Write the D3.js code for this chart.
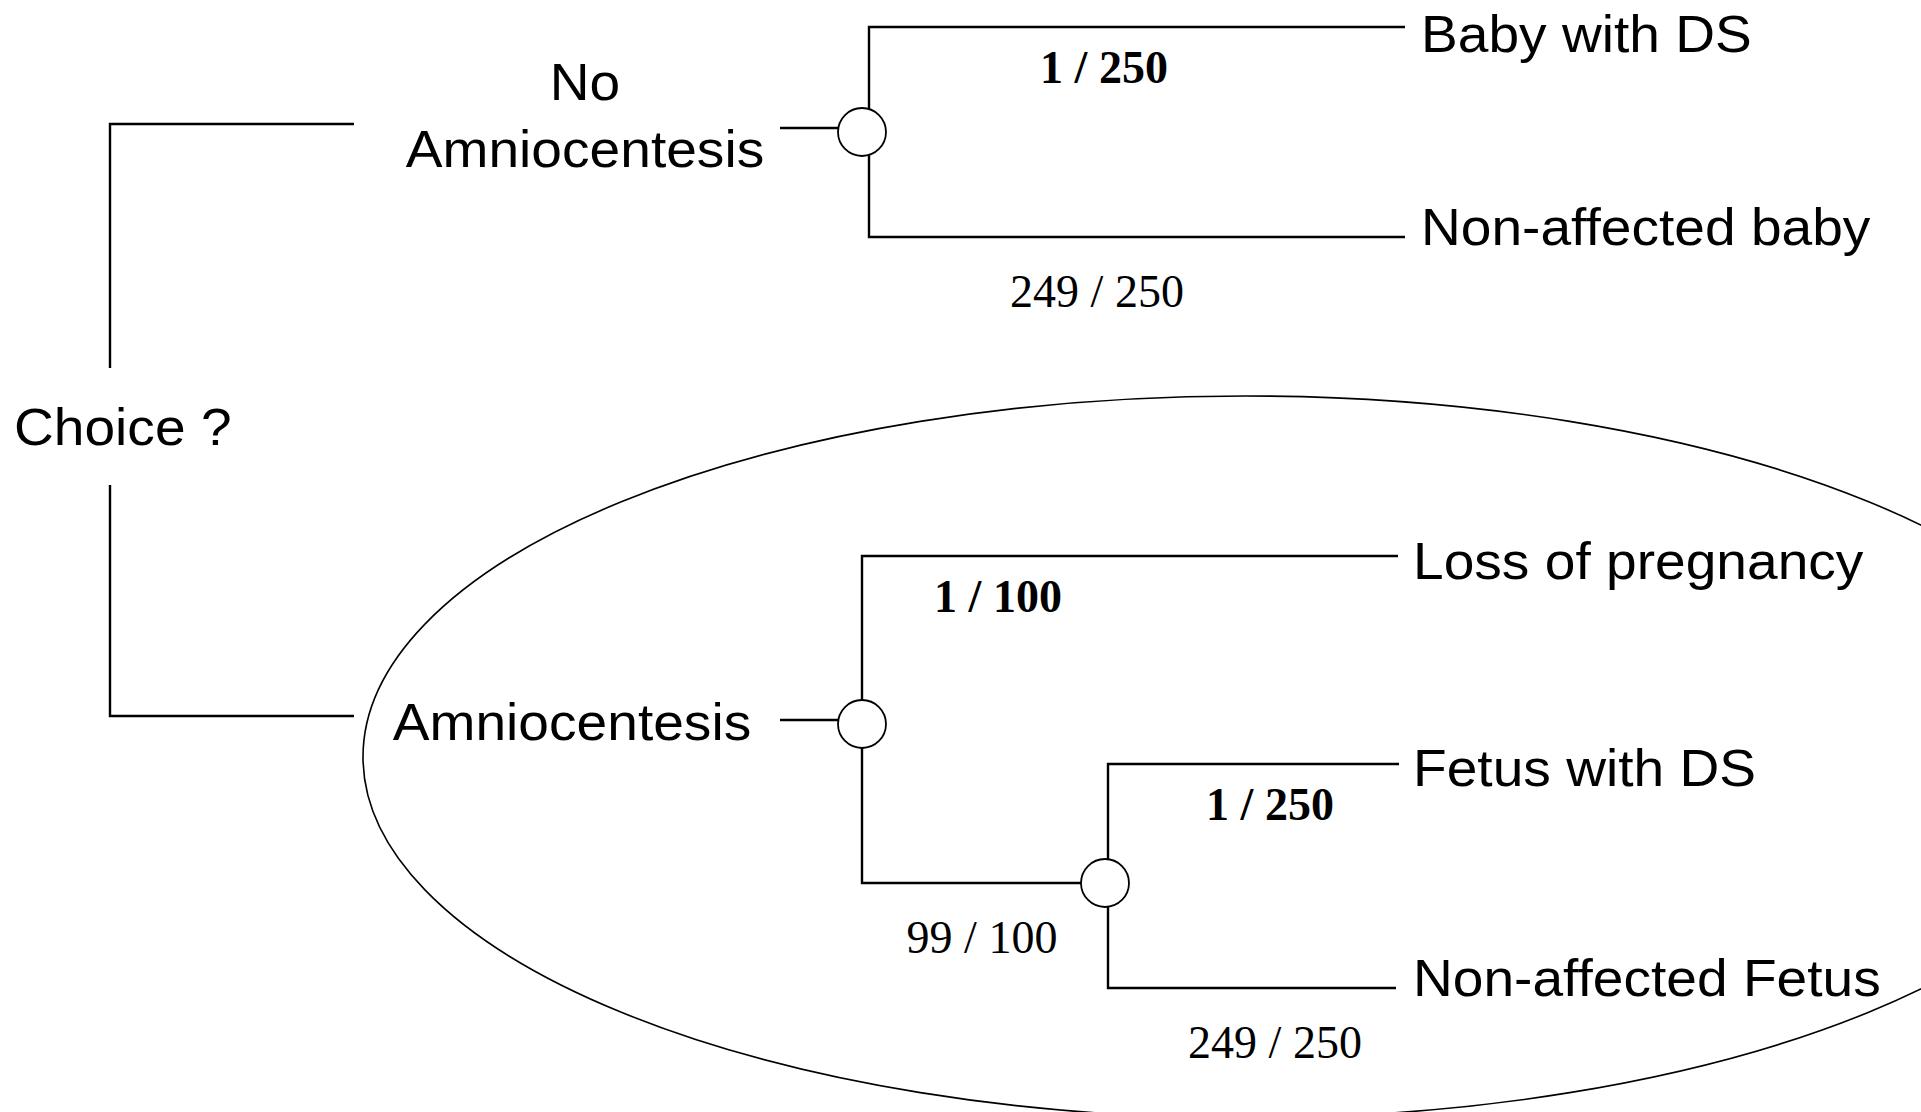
<!DOCTYPE html>
<html>
<head>
<meta charset="utf-8">
<title>Amniocentesis decision tree</title>
<script src="https://d3js.org/d3.v7.min.js"></script>
<style>
	html, body { margin: 0; padding: 0; background: #fff; }
	svg { display: block; }
	.sans { font-family: 'Liberation Sans', Arial, sans-serif; font-size: 52px; fill: #000; }
	.serif { font-family: 'Liberation Serif', 'Times New Roman', serif; font-size: 46px; fill: #000; }
	.edge { fill: none; stroke: #000; stroke-width: 2.4; }
	.chance { fill: #fff; stroke: #000; stroke-width: 1.8; }
	.group { fill: none; stroke: #000; stroke-width: 1.6; }
</style>
</head>
<body>
<script>
'use strict';

// tree, one row per node (parents listed before children, top to bottom)
var nodeIds = ['choice', 'noAmnio', 'c1', 'babyDS', 'babyOK',
		'amnio', 'c2', 'loss', 'c3', 'fetusDS', 'fetusOK'],
	nodeParents = ['', 'choice', 'noAmnio', 'c1', 'c1',
		'choice', 'amnio', 'c2', 'c2', 'c3', 'c3'],
	nodeLabels = ['Choice ?', 'No\nAmniocentesis', '', 'Baby with DS', 'Non-affected baby',
		'Amniocentesis', '', 'Loss of pregnancy', '', 'Fetus with DS', 'Non-affected Fetus'],
	// probability on the edge leading into the node
	edgeProbs = ['', '', '', '1 / 250', '249 / 250',
		'', '', '1 / 100', '99 / 100', '1 / 250', '249 / 250'];

// layout
var W = 1921, H = 1112,
	r = 24,
	rootX = 110, optionLineEnd = 354,
	sx = 1.06;

// leaf rows and chance node columns
var y = d3.scaleOrdinal()
		.domain(['babyDS', 'babyOK', 'loss', 'fetusDS', 'fetusOK'])
		.range([27, 237, 556, 764, 988]),
	x = d3.scaleLinear().domain([2, 3]).range([862, 1105]);

// fine placement, by node id (the drawing is hand made, not quite regular)
var leafEnd = {babyDS: 1405, babyOK: 1405, loss: 1398, fetusDS: 1399, fetusOK: 1396},
	leafTextX = {babyDS: 1421, babyOK: 1421, loss: 1413, fetusDS: 1413, fetusOK: 1413},
	leafDy = {babyDS: 25, babyOK: 8, loss: 23, fetusDS: 22, fetusOK: 8},
	chanceDy = {c2: 4.5, c3: 7},
	stemDx = {c1: 7, c2: 0, c3: 3},
	probX = {babyDS: 1104, babyOK: 1097, loss: 998, c3: 982, fetusDS: 1270, fetusOK: 1275},
	optionX = {noAmnio: 585, amnio: 572},
	optionDy = {noAmnio: 43, amnio: 24};

var svg = d3.select('body').append('svg')
	.attr('width', W)
	.attr('height', H);

var rows = nodeIds.map(function(id, i) {
	return {id: id, parent: nodeParents[i], label: nodeLabels[i], prob: edgeProbs[i]};
});

var root = d3.stratify()
	.id(function(d) { return d.id; })
	.parentId(function(d) { return d.parent || null; })(rows);

// positions: leaves from rows, inner nodes near the middle of their children
root.eachAfter(function(n) {
	if (!n.children) {
		n.y = y(n.id);
		n.x = leafEnd[n.id];
	} else {
		n.y = d3.mean(n.children, function(c) { return c.y; }) + (chanceDy[n.id] || 0);
		n.x = x(n.depth);
	}
});

// the option branches sit a bit above their chance node
root.children.forEach(function(o) { o.y = o.children[0].y - 8; });
root.y = d3.mean(root.children, function(o) { return o.y; });

drawGroup();
drawRoot();
drawOptions();
drawChanceNodes();

/*
* Ellipse round the amniocentesis branch.
*/
function drawGroup() {
	svg.append('ellipse')
		.attr('class', 'group')
		.attr('cx', 1245)
		.attr('cy', 757)
		.attr('rx', 882)
		.attr('ry', 361);
};

/*
* Choice label and the bracket to both options.
*/
function drawRoot() {
	var top = root.children[0], bottom = root.children[1];

	svg.append('path')
		.attr('class', 'edge')
		.attr('d', d3.line()([[optionLineEnd, top.y], [rootX, top.y], [rootX, root.y - 52]]));

	svg.append('path')
		.attr('class', 'edge')
		.attr('d', d3.line()([[rootX, root.y + 65], [rootX, bottom.y], [optionLineEnd, bottom.y]]));

	svg.append('text')
		.attr('class', 'sans')
		.attr('transform', 'translate(14,' + (root.y + 25) + ') scale(' + sx + ',1)')
		.text(root.data.label);
};

/*
* Option labels and the short line into their chance node.
*/
function drawOptions() {
	root.children.forEach(function(o) {
		var lines = o.data.label.split('\n'),
			c = o.children[0];

		lines.forEach(function(l, i) {
			svg.append('text')
				.attr('class', 'sans')
				.attr('text-anchor', 'middle')
				.attr('transform', 'translate(' + optionX[o.id] + ','
					+ (o.y + optionDy[o.id] + (i - lines.length + 1) * 67) + ') scale(' + sx + ',1)')
				.text(l);
		});

		svg.append('line')
			.attr('class', 'edge')
			.attr('x1', c.x - r - 58)
			.attr('x2', c.x - r)
			.attr('y1', c.y - 4)
			.attr('y2', c.y - 4);
	});
};

/*
* Chance nodes, their branches, outcomes and probabilities.
*/
function drawChanceNodes() {
	var chance = root.descendants().filter(function(n) { return n.depth >= 2 && n.children; });

	chance.forEach(function(c) {
		var sxStem = c.x + stemDx[c.id];

		c.children.forEach(function(k, i) {
			var up = i == 0,
				end = k.children ? k.x - r : k.x;

			svg.append('path')
				.attr('class', 'edge')
				.attr('d', d3.line()([[sxStem, c.y + (up ? -r + 2 : r - 2)], [sxStem, k.y], [end, k.y]]));

			// first branch is the event itself, in bold above the line
			svg.append('text')
				.attr('class', 'serif')
				.attr('text-anchor', 'middle')
				.attr('font-weight', up ? 'bold' : 'normal')
				.attr('x', probX[k.id])
				.attr('y', k.y + (up ? 56 : 70))
				.text(k.data.prob);

			if (!k.children) {
				svg.append('text')
					.attr('class', 'sans')
					.attr('transform', 'translate(' + leafTextX[k.id] + ',' + (k.y + leafDy[k.id]) + ') scale(' + sx + ',1)')
					.text(k.data.label);
			}
		});
	});

	svg.selectAll('.chance')
		.data(chance)
		.enter().append('circle')
			.attr('class', 'chance')
			.attr('cx', function(d) { return d.x; })
			.attr('cy', function(d) { return d.y; })
			.attr('r', r);
};
</script>
</body>
</html>
